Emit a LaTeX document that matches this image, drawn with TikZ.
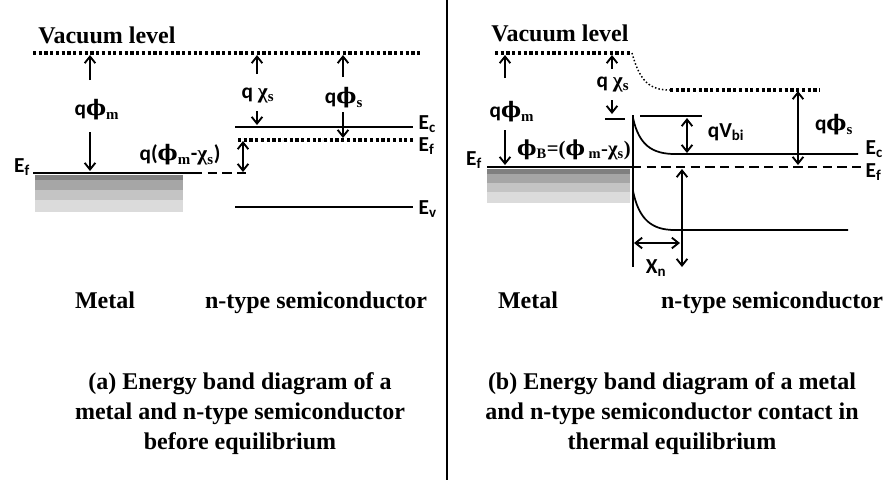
\documentclass[tikz,border=0pt]{standalone}
\usepackage{fontspec}
\usepackage{amsmath}
\setmainfont{Liberation Serif}
\newfontfamily\labfont{Carlito}
\newfontfamily\grkfont{DejaVu Serif}
\usetikzlibrary{arrows.meta,positioning}
\tikzset{
    lab/.style={
        font=\labfont\bfseries\fontsize{16}{18}\selectfont,inner sep=1pt
    },
    ttl/.style={
        font=\bfseries\fontsize{18}{22.5}\selectfont,align=center,inner sep=0pt
    },
    arr/.style={
        -{Straight Barb[length=5pt,width=8pt]},line width=1.4pt
    },
    dbl/.style={
        {Straight Barb[length=5pt,width=8pt]}-{Straight Barb[length=5pt,width=8pt]},
        line width=1.4pt
    },
    band/.style={line width=2.2pt},
    thinband/.style={line width=1.3pt},
    vac/.style={line width=2.4pt,dash pattern=on 2.4pt off 1.9pt},
    vacthin/.style={line width=1.1pt,dash pattern=on 1.1pt off 1.6pt},
    fermi/.style={line width=2.2pt,dash pattern=on 7pt off 4pt}
}
\newcommand{\lsub}[1]{$_{\text{#1}}$}
\newcommand{\ssub}[1]{$_{\text{\rmfamily\bfseries #1}}$}
\newcommand{\bphi}{{\grkfont\bfseries ϕ}}
\newcommand{\bchi}{{\rmfamily\bfseries χ}}

\begin{document}
\begin{tikzpicture}[x=0.75pt,y=-0.75pt]
\useasboundingbox[fill=white] (0,0) rectangle (890,480);

% (a) before equilibrium
\node[ttl,anchor=base] (vacLt) at (107,43) {Vacuum level};
\coordinate (vacLa) at (33,53);
\coordinate (vacLb) at (422,53);
\draw[vac] (vacLa) -- (vacLb);

% filled states of the metal
\foreach \ya/\yb/\gr in {175/180/50,180/190/35,190/200/23,200/212/14}
  \fill[black!\gr] (35,\ya) rectangle (183,\yb);
\coordinate (efLa) at (33,173);
\coordinate (efLb) at (193,173);
\coordinate (efLc) at (248,173);
\draw[band] (efLa) -- (efLb);
\draw[fermi] (efLb) -- (efLc);
\node[lab] (efLm) at (22,167) {E\lsub{f}};

\coordinate (ecLa) at (235,127);
\coordinate (ecLb) at (413,127);
\coordinate (fsLa) at (238,140);
\coordinate (fsLb) at (413,140);
\coordinate (evLa) at (235,207);
\coordinate (evLb) at (413,207);
\draw[band] (ecLa) -- (ecLb);
\draw[vac] (fsLa) -- (fsLb);
\draw[band] (evLa) -- (evLb);
\node[lab,anchor=west] (ecLt) at (417,124) {E\lsub{c}};
\node[lab,anchor=west] (fsLt) at (417,146) {E\lsub{f}};
\node[lab,anchor=west] (evLt) at (417,209) {E\lsub{v}};

\node[lab] (qphimL) at (97,110) {q\bphi\ssub{m}};
\path (90,80) coordinate (pmLa) (90,55) coordinate (pmLb)
      (90,132) coordinate (pmLc) (90,171) coordinate (pmLd);
\draw[arr] (pmLa) -- (pmLb);
\draw[arr] (pmLc) -- (pmLd);

\node[lab] (qchiL) at (258,95) {q \bchi\ssub{s}};
\path (257,74) coordinate (pcLa) (257,55) coordinate (pcLb)
      (257,111) coordinate (pcLc) (257,125) coordinate (pcLd);
\draw[arr] (pcLa) -- (pcLb);
\draw[arr] (pcLc) -- (pcLd);

\node[lab] (qphisL) at (344,98) {q\bphi\ssub{s}};
\path (343,77) coordinate (psLa) (343,55) coordinate (psLb)
      (343,112) coordinate (psLc) (343,138) coordinate (psLd);
\draw[arr] (psLa) -- (psLb);
\draw[arr] (psLc) -- (psLd);

\node[lab] (barL) at (180,155) {q(\bphi\ssub{m}-\bchi\ssub{s})};
\path (243,141) coordinate (bLa) (243,172) coordinate (bLb);
\draw[dbl] (bLa) -- (bLb);

\node[ttl,anchor=base] (metalL) at (105,308) {Metal};
\node[ttl,anchor=base] (semiL) at (316,308) {n-type semiconductor};
\node[ttl] (capL) at (240,414)
{(a) Energy band diagram of a\\
metal and n-type semiconductor\\
before equilibrium};

% divider
\coordinate (divA) at (447,0);
\coordinate (divB) at (447,480);
\draw[line width=2.2pt] (divA) -- (divB);

% (b) thermal equilibrium
\node[ttl,anchor=base] (vacRt) at (560,41) {Vacuum level};
\coordinate (vacRa) at (495,53);
\coordinate (vacRb) at (632,53);
\coordinate (vacRc) at (670,90);
\coordinate (vacRd) at (820,90);
\draw[vac] (vacRa) -- (vacRb);
\draw[vacthin] (vacRb) .. controls (640,82) and (650,90) .. (vacRc);
\draw[vac] (vacRc) -- (vacRd);

\foreach \ya/\yb/\gr in {169/174/50,174/183/35,183/192/23,192/203/14}
  \fill[black!\gr] (487,\ya) rectangle (630,\yb);
\coordinate (efRa) at (487,167);
\coordinate (efRb) at (632,167);
\coordinate (efRc) at (863,167);
\draw[band] (efRa) -- (efRb);
\draw[fermi] (efRb) -- (efRc);
\node[lab] (efRm) at (474,160) {E\lsub{f}};
\node[lab,anchor=west] (ecRt) at (864,149) {E\lsub{c}};
\node[lab,anchor=west] (fsRt) at (864,172) {E\lsub{f}};

\coordinate (ifA) at (633,115);
\coordinate (ifB) at (633,267);
\draw[thinband] (ifA) -- (ifB);

\coordinate (ecRa) at (633,118);
\coordinate (ecRb) at (675,154);
\coordinate (ecRc) at (858,154);
\draw[thinband] (ecRa) .. controls (639,145) and (652,154) .. (ecRb) -- (ecRc);
\coordinate (evRa) at (633,191);
\coordinate (evRb) at (675,230);
\coordinate (evRc) at (848,230);
\draw[thinband] (evRa) .. controls (639,220) and (652,230) .. (evRb) -- (evRc);

\coordinate (stA) at (605,119);
\coordinate (stB) at (625,119);
\coordinate (stC) at (640,116);
\coordinate (stD) at (702,116);
\draw[band] (stA) -- (stB);
\draw[band] (stC) -- (stD);

\node[lab] (qphimR) at (512,112) {q\bphi\ssub{m}};
\path (505,78) coordinate (pmRa) (505,55) coordinate (pmRb)
      (505,130) coordinate (pmRc) (505,165) coordinate (pmRd);
\draw[arr] (pmRa) -- (pmRb);
\draw[arr] (pmRc) -- (pmRd);

\node[lab] (qchiR) at (613,84) {q \bchi\ssub{s}};
\path (612,69) coordinate (pcRa) (612,55) coordinate (pcRb)
      (612,100) coordinate (pcRc) (612,114) coordinate (pcRd);
\draw[arr] (pcRa) -- (pcRb);
\draw[arr] (pcRc) -- (pcRd);

\node[lab,font=\rmfamily\bfseries\fontsize{15.5}{17}\selectfont] (phiB) at (574,150)
{\bphi\ssub{B}=(\bphi\,\ssub{m}-\bchi\ssub{s})};

\node[lab] (qvbi) at (726,132) {qV\lsub{bi}};
\path (687,118) coordinate (vbA) (687,153) coordinate (vbB);
\draw[dbl] (vbA) -- (vbB);

\node[lab] (qphisR) at (834,125) {q\bphi\ssub{s}};
\path (798,91) coordinate (psRa) (798,165) coordinate (psRb);
\draw[dbl] (psRa) -- (psRb);

\path (682,169) coordinate (wdA) (682,267) coordinate (wdB);
\draw[dbl] (wdA) -- (wdB);
\path (634,243) coordinate (xnA) (680,243) coordinate (xnB);
\draw[dbl] (xnA) -- (xnB);
\node[lab] (xn) at (656,268) {X\lsub{n}};

\node[ttl,anchor=base] (metalR) at (528,308) {Metal};
\node[ttl,anchor=base] (semiR) at (772,308) {n-type semiconductor};
\node[ttl] (capR) at (672,414)
{(b) Energy band diagram of a metal\\
and n-type semiconductor contact in\\
thermal equilibrium};

\end{tikzpicture}
\end{document}
